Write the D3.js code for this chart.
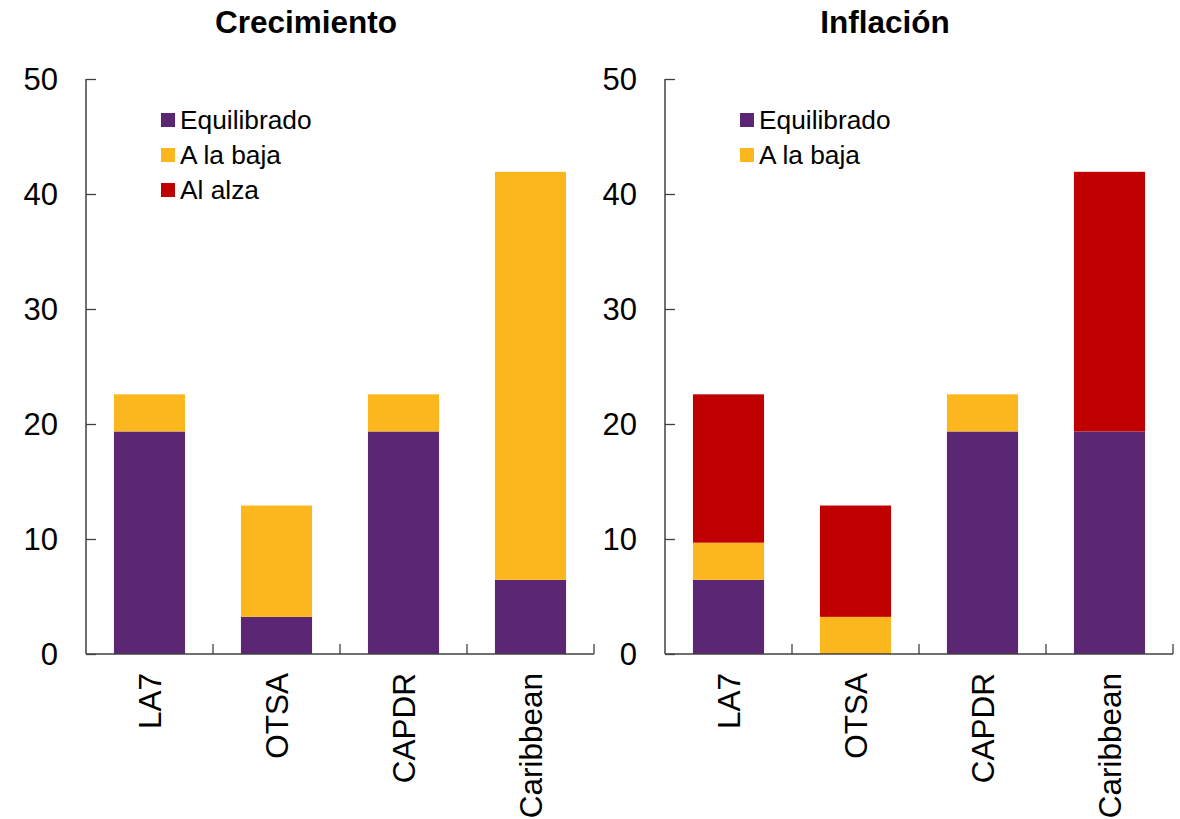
<!DOCTYPE html>
<html><head><meta charset="utf-8">
<script src="https://cdn.jsdelivr.net/npm/d3@7"></script>
<style>body{margin:0;background:#fff}svg{display:block}</style>
</head><body>
<svg id="c" width="1180" height="819"></svg>
<script>
const categories = ["LA7", "OTSA", "CAPDR", "Caribbean"];
const seriesNames = ["Equilibrado", "A la baja", "Al alza"];
const colors = ["#5B2673", "#FDB71E", "#C00000"];
const yTicks = [0, 10, 20, 30, 40, 50];
// Crecimiento
const growthEquilibrado = [19.35, 3.23, 19.35, 6.45];
const growthBaja = [3.23, 9.68, 3.23, 35.48];
const growthAlza = [0, 0, 0, 0];
// Inflación
const inflEquilibrado = [6.45, 0, 19.35, 19.35];
const inflBaja = [3.23, 3.23, 3.23, 0];
const inflAlza = [12.90, 9.68, 0, 22.58];

const panels = [
  {title: "Crecimiento", x0: 86, series: [growthEquilibrado, growthBaja, growthAlza], legend: [0,1,2]},
  {title: "Inflación", x0: 665, series: [inflEquilibrado, inflBaja, inflAlza], legend: [0,1]}
];
const svg = d3.select("#c");
const font = "Arial, 'Liberation Sans', sans-serif";
const y = d3.scaleLinear().domain([0, 50]).range([654, 79]);
const axisColor = "#404040";

panels.forEach(p => {
  const g = svg.append("g");
  const x = d3.scaleBand().domain(categories).range([p.x0, p.x0 + 508]).paddingInner(0.44).paddingOuter(0.22);
  const rows = categories.map((c, i) => {
    const o = {cat: c};
    seriesNames.forEach((s, k) => o[s] = p.series[k][i]);
    return o;
  });
  const stack = d3.stack().keys(seriesNames)(rows);
  stack.forEach((layer, k) => {
    g.selectAll(null).data(layer).enter().append("rect")
      .attr("x", d => x(d.data.cat))
      .attr("width", x.bandwidth())
      .attr("y", d => y(d[1]))
      .attr("height", d => y(d[0]) - y(d[1]))
      .attr("fill", colors[k]);
  });
  // y axis
  const ya = g.append("g").attr("transform", `translate(${p.x0},0)`)
    .call(d3.axisRight(y).tickValues(yTicks).tickSize(10).tickFormat(""));
  ya.select(".domain").attr("stroke", axisColor).attr("stroke-width", 1.5).attr("d", `M0,${y(50)}V${y(0)}`);
  ya.selectAll(".tick line").attr("stroke", axisColor).attr("stroke-width", 1.3);
  g.selectAll(null).data(yTicks).enter().append("text")
    .attr("x", p.x0 - 28).attr("y", d => y(d)).attr("dy", "0.36em")
    .attr("text-anchor", "end").attr("font-family", font).attr("font-size", 31)
    .text(d => d);
  // x axis
  const bounds = d3.range(1, categories.length + 1).map(i => p.x0 + i * x.step() + x.step() * 0.0);
  g.append("line").attr("x1", p.x0).attr("x2", p.x0 + 508).attr("y1", y(0)).attr("y2", y(0))
    .attr("stroke", axisColor).attr("stroke-width", 1.5);
  g.selectAll(null).data(d3.range(1, 5).map(i => p.x0 + i * 127)).enter().append("line")
    .attr("x1", d => d).attr("x2", d => d).attr("y1", y(0)).attr("y2", y(0) - 10)
    .attr("stroke", axisColor).attr("stroke-width", 1.3);
  g.selectAll(null).data(categories).enter().append("text")
    .attr("transform", d => `translate(${x(d) + x.bandwidth() / 2},${y(0) + 19}) rotate(-90)`)
    .attr("text-anchor", "end").attr("dy", "0.36em")
    .attr("font-family", font).attr("font-size", 31.5).text(d => d);
  // title
  g.append("text").attr("x", p.x0 + 220).attr("y", 33).attr("text-anchor", "middle")
    .attr("font-family", font).attr("font-weight", "bold").attr("font-size", 31.5).text(p.title);
  // legend
  const lg = g.append("g").attr("transform", `translate(${p.x0 + 75},0)`);
  p.legend.forEach((k, i) => {
    lg.append("rect").attr("x", 0).attr("y", 113 + i * 35).attr("width", 14).attr("height", 14).attr("fill", colors[k]);
    lg.append("text").attr("x", 19).attr("y", 120 + i * 35).attr("dy", "0.36em")
      .attr("font-family", font).attr("font-size", 26.3).text(seriesNames[k]);
  });
});
</script>
</body></html>
